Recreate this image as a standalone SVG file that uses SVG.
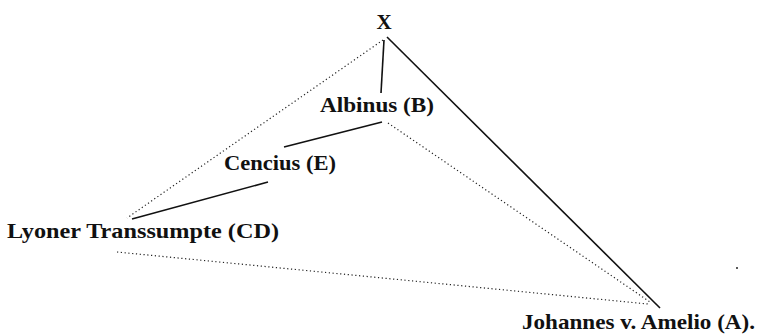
<svg xmlns="http://www.w3.org/2000/svg" width="761" height="334" viewBox="0 0 761 334">
<style>
text{font-family:"Liberation Serif","DejaVu Serif",serif;font-weight:bold;font-size:21px;fill:#111}
.s{stroke:#111;stroke-width:1.6;fill:none}
.d{stroke:#222;stroke-width:1.2;fill:none;stroke-dasharray:1.2 2.6}
</style>
<rect width="761" height="334" fill="#fff"/>
<g id="connectors">
<line class="s" x1="384" y1="40" x2="381" y2="93"/>
<line class="s" x1="387" y1="37" x2="660" y2="308"/>
<line class="d" x1="383" y1="40" x2="127" y2="218"/>
<line class="s" x1="382" y1="122" x2="284" y2="147"/>
<line class="d" x1="388" y1="123" x2="650" y2="302"/>
<line class="s" x1="268" y1="182" x2="132" y2="219"/>
<line class="d" x1="117" y1="252" x2="648" y2="304"/>
</g>
<g id="nX"><text x="384" y="29" text-anchor="middle" font-size="23">X</text></g>
<g id="nB"><text x="320" y="112" textLength="114" lengthAdjust="spacingAndGlyphs">Albinus (B)</text></g>
<g id="nE"><text x="224" y="170" textLength="112" lengthAdjust="spacingAndGlyphs">Cencius (E)</text></g>
<g id="nCD"><text x="7" y="238" textLength="272" lengthAdjust="spacingAndGlyphs">Lyoner Transsumpte (CD)</text></g>
<g id="nA"><text x="522" y="329" textLength="233" lengthAdjust="spacingAndGlyphs">Johannes v. Amelio (A).</text></g>
<circle cx="737" cy="268" r="1" fill="#222"/>
</svg>
